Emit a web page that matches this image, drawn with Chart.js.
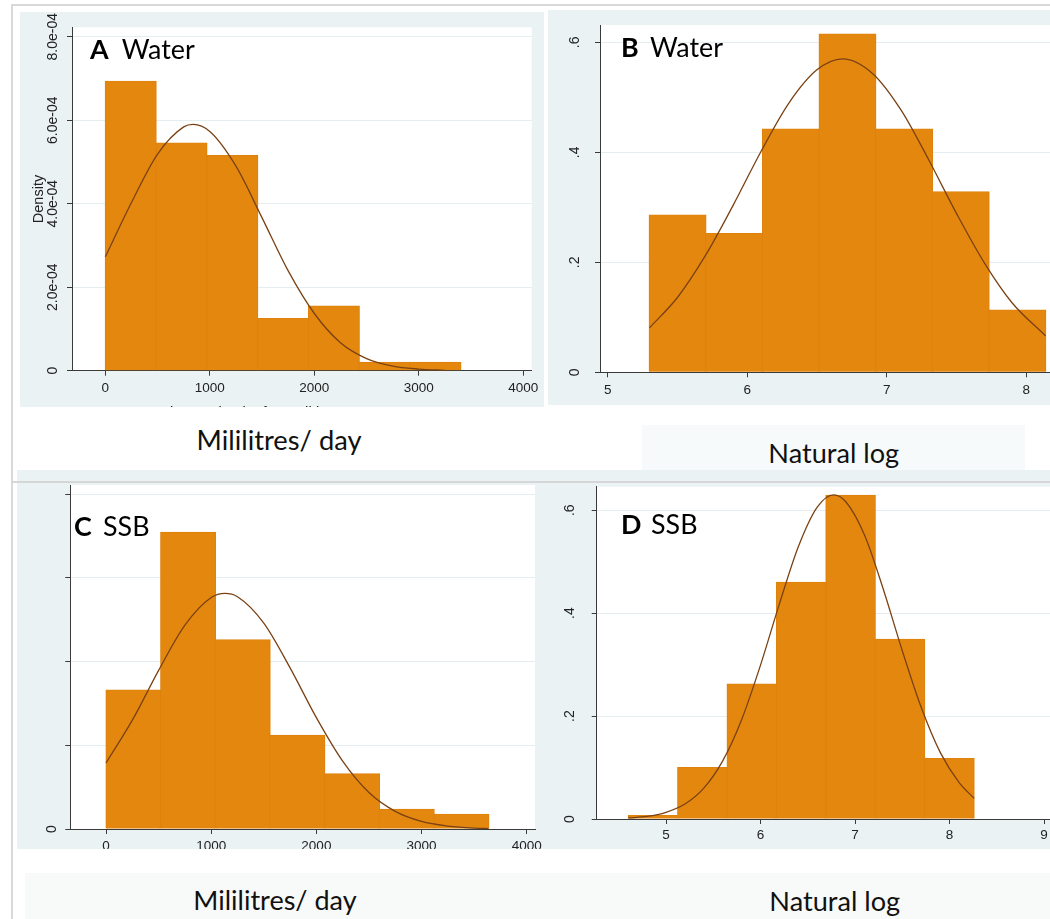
<!DOCTYPE html>
<html>
<head>
<meta charset="utf-8">
<script src="https://cdn.jsdelivr.net/npm/chart.js@4.4.0/dist/chart.umd.min.js"></script>
<style>
  html, body { margin: 0; padding: 0; background: #fff; overflow: hidden; }
  #page { position: relative; width: 1050px; height: 919px; }
  .blk { position: absolute; }
  canvas { position: absolute; display: block; }
  .cap { position: absolute; font-family: Lato, sans-serif; color: #111; white-space: nowrap; }
</style>
</head>
<body>
<div id="page">
  <div class="blk" style="left:11px;top:4px;width:1039px;height:2px;background:#d9d9d9"></div>
  <div class="blk" style="left:11px;top:4px;width:2px;height:915px;background:#d9d9d9"></div>
  <div class="blk" style="left:17px;top:470px;width:1033px;height:11px;background:#eaf2f3"></div>
  <div class="blk" style="left:11px;top:481px;width:1039px;height:2px;background:#d6d6d6"></div>
  <div class="blk" style="left:642px;top:425px;width:383px;height:45px;background:#f7fafa"></div>
  <div class="blk" style="left:25px;top:873px;width:1025px;height:46px;background:#f8fafa"></div>
  <canvas id="chartA"></canvas>
  <canvas id="chartB"></canvas>
  <canvas id="chartD"></canvas>
  <canvas id="chartC"></canvas>
</div>
<script>
// ---- data ----
// A: water, ml/day
const aBinMid = [243, 729, 1215, 1701, 2187, 2673, 3159];
const aDensity = [6.93e-4, 5.45e-4, 5.15e-4, 1.25e-4, 1.55e-4, 0.20e-4, 0.20e-4];
const aCurveX = [0, 250, 500, 750, 840, 1000, 1250, 1500, 1750, 2000, 2250, 2500, 2750, 3000, 3250];
const aCurveY = [2.73e-4, 4.03e-4, 5.19e-4, 5.84e-4, 5.90e-4, 5.73e-4, 4.90e-4, 3.66e-4, 2.39e-4, 1.37e-4, 0.67e-4, 0.29e-4, 0.11e-4, 0.04e-4, 0.01e-4];
const aXTicks = [0, 1000, 2000, 3000, 4000];
const aYTicks = [0, 2e-4, 4e-4, 6e-4, 8e-4];
const aYLabels = ['0', '2.0e-04', '4.0e-04', '6.0e-04', '8.0e-04'];

// B: water, natural log
const bBinMid = [5.501, 5.907, 6.313, 6.719, 7.125, 7.531, 7.937];
const bDensity = [0.286, 0.252, 0.442, 0.615, 0.442, 0.328, 0.113];
const bCurveX = [5.30, 5.5, 5.7, 5.9, 6.1, 6.3, 6.5, 6.685, 6.9, 7.1, 7.3, 7.5, 7.7, 7.9, 8.14];
const bCurveY = [0.081, 0.136, 0.212, 0.304, 0.402, 0.490, 0.550, 0.570, 0.543, 0.478, 0.387, 0.289, 0.199, 0.126, 0.066];
const bXTicks = [5, 6, 7, 8];
const bYTicks = [0, 0.2, 0.4, 0.6];
const bYLabels = ['0', '.2', '.4', '.6'];

// C: SSB, ml/day
const cBinMid = [260, 780, 1300, 1820, 2340, 2860, 3380];
const cDensity = [3.32e-4, 7.09e-4, 4.52e-4, 2.24e-4, 1.32e-4, 0.47e-4, 0.35e-4];
const cCurveX = [0, 250, 500, 750, 1000, 1131, 1250, 1500, 1750, 2000, 2250, 2500, 2750, 3000, 3250, 3500, 3638];
const cCurveY = [1.58e-4, 2.60e-4, 3.79e-4, 4.87e-4, 5.53e-4, 5.63e-4, 5.55e-4, 4.92e-4, 3.85e-4, 2.66e-4, 1.62e-4, 0.87e-4, 0.42e-4, 0.18e-4, 0.07e-4, 0.02e-4, 0.01e-4];
const cXTicks = [0, 1000, 2000, 3000, 4000];
const cYTicks = [0, 2e-4, 4e-4, 6e-4, 8e-4];
const cYLabels = ['0', '', '', '', ''];

// D: SSB, natural log
const dBinMid = [4.862, 5.385, 5.908, 6.431, 6.953, 7.476, 7.999];
const dDensity = [0.0064, 0.0997, 0.2623, 0.460, 0.629, 0.349, 0.1172];
const dCurveX = [4.60, 4.8, 5.0, 5.2, 5.4, 5.6, 5.8, 6.0, 6.2, 6.4, 6.6, 6.774, 6.9, 7.1, 7.3, 7.5, 7.7, 7.9, 8.1, 8.26];
const dCurveY = [0.002, 0.005, 0.013, 0.029, 0.060, 0.113, 0.193, 0.299, 0.418, 0.529, 0.606, 0.630, 0.617, 0.552, 0.446, 0.327, 0.217, 0.130, 0.071, 0.040];
const dXTicks = [5, 6, 7, 8, 9];
const dYTicks = [0, 0.2, 0.4, 0.6];
const dYLabels = ['0', '.2', '.4', '.6'];

const BG = '#eaf2f3';
const GRID = '#e4edef';
const AXIS = '#3a3a3a';
const FILL = '#e4870f';
const EDGE = '#de820e';
const CURVE = '#7a4214';
const TICK_FONT = 'Liberation Sans';

// sizes so the pasted labels match their width in the figure
const measureCtx = document.createElement('canvas').getContext('2d');
function fitSize(text, weight, family, target) {
  measureCtx.font = weight + ' 100px ' + family;
  return 100 * target / measureCtx.measureText(text).width;
}
const labelSize = fitSize('Water', 'normal', 'Lato', 73);

// background, rotated y labels, panel label
const stataLook = {
  id: 'stataLook',
  beforeDraw(chart) {
    const { ctx, chartArea: a } = chart;
    ctx.save();
    ctx.fillStyle = BG;
    ctx.fillRect(0, 0, chart.width, chart.height);
    ctx.fillStyle = '#fff';
    ctx.fillRect(a.left, a.top, a.right - a.left, a.bottom - a.top);
    ctx.restore();
  },
  afterDraw(chart, args, o) {
    const { ctx, chartArea: a } = chart;
    const y = chart.scales.y;
    ctx.save();
    ctx.fillStyle = '#222';
    ctx.textAlign = 'center';
    ctx.textBaseline = 'middle';
    ctx.font = '14px "' + TICK_FONT + '"';
    o.ticks.forEach((v, i) => {
      if (!o.labels[i]) return;
      ctx.save();
      ctx.translate(o.labelX, y.getPixelForValue(v));
      ctx.rotate(-Math.PI / 2);
      ctx.fillText(o.labels[i], 0, 0);
      ctx.restore();
    });
    if (o.title) {
      ctx.save();
      ctx.font = '14.5px "' + TICK_FONT + '"';
      ctx.translate(o.titleX, (a.top + a.bottom) / 2);
      ctx.rotate(-Math.PI / 2);
      ctx.fillText(o.title, 0, 0);
      ctx.restore();
    }
    if (o.xTitle) {
      ctx.font = '15px "' + TICK_FONT + '"';
      ctx.textAlign = 'left';
      ctx.textBaseline = 'alphabetic';
      ctx.fillText(o.xTitle, o.xTitleX, o.xTitleBase);
    }
    ctx.fillStyle = '#000';
    ctx.textAlign = 'left';
    ctx.textBaseline = 'alphabetic';
    ctx.font = 'bold ' + labelSize + 'px Lato';
    ctx.fillText(o.letter, o.letterX, o.baseline);
    ctx.font = labelSize + 'px Lato';
    ctx.fillText(o.word, o.wordX, o.baseline);
    ctx.restore();
  }
};

function histogram(id, p, mids, dens, curveX, curveY, xTicks, yTicks, yLabels) {
  const cv = document.getElementById(id);
  cv.width = p.w; cv.height = p.h;
  cv.style.left = p.left + 'px'; cv.style.top = p.top + 'px';
  cv.style.width = p.w + 'px'; cv.style.height = p.h + 'px';
  return new Chart(cv, {
    type: 'bar',
    data: {
      datasets: [
        {
          type: 'line',
          data: curveX.map((x, i) => ({ x: x, y: curveY[i] })),
          borderColor: CURVE,
          borderWidth: 1.3,
          pointRadius: 0,
          cubicInterpolationMode: 'monotone',
          fill: false,
          order: 1
        },
        {
          type: 'bar',
          data: mids.map((x, i) => ({ x: x, y: dens[i] })),
          backgroundColor: FILL,
          borderColor: EDGE,
          borderWidth: 1,
          borderSkipped: 'bottom',
          inflateAmount: 0.6,
          barPercentage: 1,
          categoryPercentage: 1,
          order: 2
        }
      ]
    },
    options: {
      responsive: false,
      animation: false,
      events: [],
      layout: { padding: { left: 0, top: p.padTop, right: p.padRight, bottom: 0 } },
      plugins: {
        legend: { display: false },
        tooltip: { enabled: false },
        stataLook: {
          ticks: yTicks, labels: yLabels, labelX: p.yLabelX,
          title: p.title, titleX: p.titleX,
          xTitle: p.xTitle, xTitleX: p.xTitleX, xTitleBase: p.xTitleBase,
          letter: p.letter, word: p.word, letterX: p.letterX, wordX: p.wordX, baseline: p.baseline
        }
      },
      scales: {
        x: {
          type: 'linear',
          min: p.xMin, max: p.xMax,
          offset: false,
          afterBuildTicks: s => { s.ticks = xTicks.map(v => ({ value: v })); },
          afterFit: s => { s.height = p.xHeight; s.paddingLeft = 0; s.paddingRight = 0; },
          grid: { drawOnChartArea: false, drawTicks: true, tickLength: 5, tickColor: AXIS, offset: false },
          border: { color: AXIS, width: 1 },
          ticks: {
            autoSkip: false, maxRotation: 0, minRotation: 0, padding: p.xPad,
            color: '#222', font: { family: TICK_FONT, size: 13.5 },
            callback: v => String(v)
          }
        },
        y: {
          type: 'linear',
          min: 0, max: p.yMax,
          afterBuildTicks: s => { s.ticks = yTicks.map(v => ({ value: v })); },
          afterFit: s => { s.width = p.yWidth; s.paddingTop = 0; s.paddingBottom = 0; },
          grid: { color: GRID, lineWidth: 1, drawTicks: true, tickLength: 5, tickColor: AXIS },
          border: { color: AXIS, width: 1 },
          ticks: { display: false }
        }
      }
    },
    plugins: [stataLook]
  });
}

histogram('chartA', {
  left: 20, top: 12, w: 524, h: 395, yWidth: 52, padTop: 15.3, padRight: 12.3, xHeight: 36.3,
  xMin: -319, xMax: 4080, yMax: 8.225e-4, xPad: 4.5, yLabelX: 33.3,
  title: 'Density', titleX: 19.3,
  xTitle: 'Total water intake from all beverages', xTitleX: 121.7, xTitleBase: 405,
  letter: 'A', word: 'Water', letterX: 70, wordX: 101.7, baseline: 47.3
}, aBinMid, aDensity, aCurveX, aCurveY, aXTicks, aYTicks, aYLabels);

histogram('chartB', {
  left: 548, top: 10, w: 502, h: 395, yWidth: 52, padTop: 15, padRight: 0, xHeight: 32.7,
  xMin: 4.945, xMax: 8.1706, yMax: 0.6315, xPad: 4.6, yLabelX: 27,
  letter: 'B', word: 'Water', letterX: 73, wordX: 102, baseline: 46.7
}, bBinMid, bDensity, bCurveX, bCurveY, bXTicks, bYTicks, bYLabels);

histogram('chartC', {
  left: 17, top: 483, w: 530, h: 366, yWidth: 53.3, padTop: 2, padRight: 12, xHeight: 20,
  xMin: -340, xMax: 4079, yMax: 8.22e-4, xPad: 4.5, yLabelX: 34.7,
  letter: 'C', word: 'SSB', letterX: 57, wordX: 86, baseline: 53
}, cBinMid, cDensity, cCurveX, cCurveY, cXTicks, cYTicks, cYLabels);

histogram('chartD', {
  left: 535, top: 483, w: 515, h: 366, yWidth: 61.7, padTop: 3.7, padRight: 0, xHeight: 30,
  xMin: 4.2667, xMax: 9.063, yMax: 0.6457, xPad: 3.6, yLabelX: 35,
  letter: 'D', word: 'SSB', letterX: 86, wordX: 116, baseline: 51.3
}, dBinMid, dDensity, dCurveX, dCurveY, dXTicks, dYTicks, dYLabels);

// captions under each panel
const page = document.getElementById('page');
function caption(text, width, cx, baseline) {
  const size = fitSize(text, 'normal', 'Lato', width);
  measureCtx.font = size + 'px Lato';
  const m = measureCtx.measureText(text);
  const asc = m.fontBoundingBoxAscent, desc = m.fontBoundingBoxDescent;
  const d = document.createElement('div');
  d.className = 'cap';
  d.textContent = text;
  d.style.fontSize = size + 'px';
  d.style.lineHeight = (asc + desc) + 'px';
  d.style.top = (baseline - asc) + 'px';
  d.style.left = (cx - m.width / 2) + 'px';
  page.appendChild(d);
}
caption('Mililitres/ day', 165, 279, 450);
caption('Natural log', 130.7, 833.7, 462.7);
caption('Mililitres/ day', 163.4, 275, 910);
caption('Natural log', 130.7, 834.7, 910.7);
</script>
</body>
</html>
